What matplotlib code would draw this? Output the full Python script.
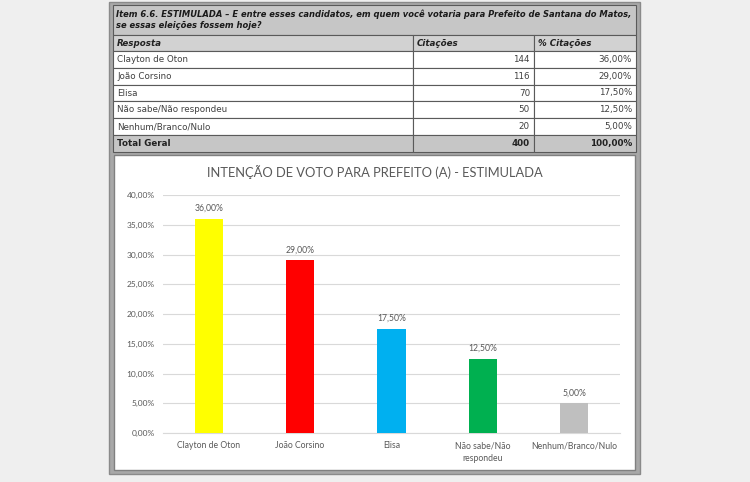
import matplotlib
matplotlib.use("Agg")
import numpy as np
from matplotlib import pyplot as plt
from matplotlib.patches import Rectangle

# dados da pesquisa
respostas = ["Clayton de Oton", "João Corsino", "Elisa", "Não sabe/Não respondeu", "Nenhum/Branco/Nulo"]
rotulos = ["Clayton de Oton", "João Corsino", "Elisa", "Não sabe/Não\nrespondeu", "Nenhum/Branco/Nulo"]
citacoes = [144, 116, 70, 50, 20]
percentuais = [36.00, 29.00, 17.50, 12.50, 5.00]
cores = ["#ffff00", "#ff0000", "#00b0f0", "#00b050", "#bfbfbf"]
total_citacoes = 400
total_percentual = 100.00
yticks = [0, 5, 10, 15, 20, 25, 30, 35, 40]

pergunta = ("Item 6.6. ESTIMULADA \u2013 E entre esses candidatos, em quem você votaria para Prefeito de Santana do Matos,\n"
            "se essas eleições fossem hoje?")
titulo = "INTENÇÃO DE VOTO PARA PREFEITO (A) - ESTIMULADA"


def fmt_pct(v):
    return ("%.2f" % v).replace(".", ",") + "%"


W, H = 750, 482
fig = plt.figure(figsize=(7.5, 4.82), dpi=100, facecolor="#efefef")
bg = fig.add_axes([0, 0, 1, 1])
bg.set_xlim(0, W)
bg.set_ylim(H, 0)
bg.axis("off")

# moldura
bg.add_patch(Rectangle((109, 2), 531, 472, fc="#a8a8a8", ec="#8a8a8a", lw=1))

# tabela
c0, c1, c2, c3 = 113, 413, 534, 636
linha = "#5a5a5a"
fs = 6.3
bg.add_patch(Rectangle((c0, 5), c3 - c0, 30, fc="#c6c6c6", ec=linha, lw=0.8))
bg.text(c0 + 3, 20, pergunta, fontsize=6.0, fontweight="bold", fontstyle="italic",
        color="#1a1a1a", va="center", ha="left", linespacing=1.3)

def linha_tabela(y0, h, fc, textos, bold=False, italic=False):
    for (xa, xb) in [(c0, c1), (c1, c2), (c2, c3)]:
        bg.add_patch(Rectangle((xa, y0), xb - xa, h, fc=fc, ec=linha, lw=0.8))
    yc = y0 + h / 2
    kw = dict(fontsize=fs, va="center", color="#222222" if (bold or italic) else "#404040",
              fontweight="bold" if bold else "normal", fontstyle="italic" if italic else "normal")
    bg.text(c0 + 4, yc, textos[0], ha="left", **kw)
    if italic:
        bg.text(c1 + 4, yc, textos[1], ha="left", **kw)
        bg.text(c2 + 4, yc, textos[2], ha="left", **kw)
    else:
        bg.text(c2 - 4, yc, textos[1], ha="right", **kw)
        bg.text(c3 - 4, yc, textos[2], ha="right", **kw)

linha_tabela(35, 16, "#d2d2d2", ["Resposta", "Citações", "% Citações"], bold=True, italic=True)
y = 51
for r, c, p in zip(respostas, citacoes, percentuais):
    linha_tabela(y, 16.8, "white", [r, str(c), fmt_pct(p)])
    y += 16.8
linha_tabela(y, 152 - y, "#c6c6c6", ["Total Geral", str(total_citacoes), fmt_pct(total_percentual)], bold=True)

# painel do grafico
bg.add_patch(Rectangle((114, 155), 521, 315, fc="white", ec="#808080", lw=1))
bg.text(375, 172, titulo, fontsize=9.3, color="#595959", ha="center", va="center", family="Lato")

ax = fig.add_axes([163 / W, 1 - 433 / H, (620 - 163) / W, (433 - 195) / H])
ax.patch.set_alpha(0)
x = np.arange(len(percentuais))
ax.bar(x, percentuais, width=0.31, color=cores, zorder=3)
ax.set_xlim(-0.5, len(percentuais) - 0.5)
ax.set_ylim(0, 40)
ax.set_yticks(yticks)
ax.set_yticklabels([fmt_pct(v) for v in yticks], fontsize=6, color="#595959", family="Lato")
ax.set_xticks(x)
ax.set_xticklabels(rotulos, fontsize=6.2, color="#595959", family="Lato", linespacing=1.5)
ax.tick_params(length=0, pad=6)
ax.grid(axis="y", color="#d9d9d9", lw=0.8, zorder=0)
for s in ["top", "right", "left"]:
    ax.spines[s].set_visible(False)
ax.spines["bottom"].set_color("#d9d9d9")
for i, v in enumerate(percentuais):
    ax.text(i, v + 1.0, fmt_pct(v), ha="center", va="bottom", fontsize=6.2, color="#595959", family="Lato")

fig.savefig("out.png", dpi=100, facecolor=fig.get_facecolor())
